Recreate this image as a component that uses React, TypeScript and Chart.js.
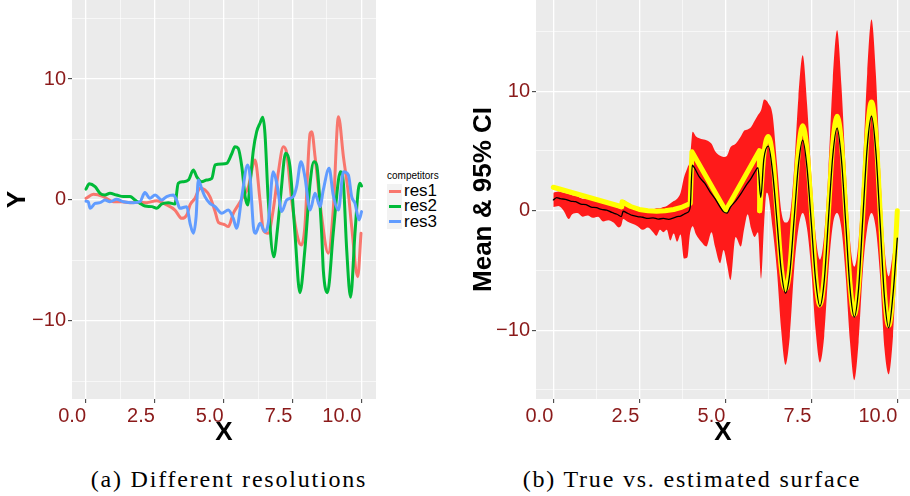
import React, { useEffect, useRef } from 'react';
import { Chart, registerables } from 'chart.js';

Chart.register(...registerables);

const SANS = '"Liberation Sans", Arial, Helvetica, sans-serif';
const SERIF = '"Liberation Serif", "Times New Roman", serif';
const TICK_RED = '#8B1A1A';

// ---- tick definitions ----
const xTicksAll = [0, 1.25, 2.5, 3.75, 5, 6.25, 7.5, 8.75, 10];
const xMajor = [0, 2.5, 5, 7.5, 10];
const xMajorLabels = ['0.0', '2.5', '5.0', '7.5', '10.0'];
const yTicksAll = [-15, -10, -5, 0, 5, 10, 15];
const yMajor = [-10, 0, 10];
const yMajorLabels = ['\u221210', '0', '10'];

// ---- panel (a): different resolutions ----
const legendTitle = 'competitors';
const seriesNames = ['res1', 'res2', 'res3'];
const seriesColors = ['#F8766D', '#00BA38', '#619CFF'];

const res1: [number, number][] = [
  [0, 0.14], [0.27, 0.47], [0.63, 0.28], [0.99, -0.14], [1.3, -0.15], [1.6, -0.22], [1.9, -0.2],
  [2.2, -0.22], [2.57, -0.06], [2.93, -0.41], [3.23, -0.83], [3.48, -1.52], [3.66, -1.24],
  [3.78, -0.41], [3.96, 0.14], [4.14, 0.96], [4.32, 0.83], [4.5, 0.28], [4.69, -0.96], [4.81, -1.85],
  [5.0, -2.0], [5.17, -2.2], [5.35, -1.1], [5.53, -0.41], [5.78, 0.55], [5.9, 1.1], [6.08, 3.03],
  [6.14, 3.3], [6.32, 0], [6.44, -2.48], [6.62, -2.75], [6.8, -0.83], [6.98, 2.2], [7.17, 4.4],
  [7.29, 3.86], [7.47, 0], [7.71, -3.3], [7.83, -3.72], [7.95, -2.2], [8.14, 5.5], [8.2, 5.65],
  [8.32, 3.58], [8.56, -1.38], [8.8, -4.4], [8.98, -0.83], [9.17, 6.88], [9.35, 3.58], [9.53, 0.55],
  [9.65, -2.2], [9.87, -6.34], [9.99, -2.75],
];

const res2: [number, number][] = [
  [0, 0.9], [0.12, 1.35], [0.33, 1.1], [0.51, 0.55], [0.69, 0.41], [0.87, 0.55], [1.11, 0.41],
  [1.36, 0.28], [1.6, 0.28], [1.78, 0], [1.96, -0.28], [2.14, -0.5], [2.39, -0.55], [2.57, -0.69],
  [2.75, -0.33], [2.99, -0.22], [3.23, -0.33], [3.35, 1.38], [3.53, 1.51], [3.72, 1.65], [3.9, 2.48],
  [4.02, 1.93], [4.2, 1.51], [4.38, 1.65], [4.57, 1.79], [4.69, 2.9], [4.93, 2.98], [5.11, 3.03],
  [5.29, 3.8], [5.41, 4.4], [5.53, 4.27], [5.66, 2.75], [5.78, 0.28], [5.87, -0.41], [5.96, 1.38],
  [6.08, 4.13], [6.2, 5.65], [6.32, 6.34], [6.42, 6.83], [6.5, 5.51], [6.62, 0], [6.82, -4.7],
  [6.95, -2.5], [7.08, 0.55], [7.25, 3.86], [7.41, 2.75], [7.59, -2.75], [7.77, -7.66], [7.95, -4.13],
  [8.14, 1.38], [8.28, 3.17], [8.38, 2.89], [8.56, -2.75], [8.62, -5.79], [8.77, -7.66], [8.98, -2.75],
  [9.17, 1.65], [9.24, 2.34], [9.35, 1.38], [9.47, -4.13], [9.61, -8.04], [9.77, -2.75], [9.89, 0.83],
  [9.95, 1.38], [10.01, 1.16],
];

const res3: [number, number][] = [
  [0, -0.1], [0.08, -0.14], [0.15, -0.69], [0.33, -0.28], [0.51, -0.22], [0.69, 0], [0.87, -0.14],
  [1.11, 0.06], [1.36, -0.14], [1.72, -0.22], [1.96, -0.14], [2.14, 0.61], [2.32, 0.14], [2.51, 0.41],
  [2.75, 0], [2.93, 0.28], [3.17, 0.41], [3.29, 0], [3.41, -0.69], [3.66, -0.55], [3.78, -1.93],
  [3.9, -2.75], [4.0, -1.38], [4.08, 1.65], [4.2, 0.96], [4.32, 0.28], [4.5, -0.28], [4.69, -0.55],
  [4.93, -1.1], [5.17, -0.83], [5.35, -1.52], [5.47, -2.34], [5.66, 0.28], [5.87, 2.89], [5.96, 1.93],
  [6.08, -2.2], [6.16, -2.75], [6.32, -1.93], [6.5, -2.62], [6.62, -1.93], [6.8, 2.34], [6.93, 1.38],
  [7.11, -0.96], [7.29, 0], [7.53, 0.28], [7.65, 1.1], [7.81, 3.17], [7.95, 1.93], [8.14, -0.83],
  [8.32, 0.55], [8.5, -0.55], [8.62, 0.83], [8.83, 2.62], [8.98, 0.41], [9.17, -0.83], [9.35, 2.34],
  [9.53, 2.07], [9.65, 0.28], [9.77, -0.28], [9.92, -1.65], [10.01, -0.96],
];

// ---- panel (b): true vs. estimated surface ----
const trueLinear: [number, number][] = [
  [0, 1.96], [1.99, 0.33], [2.0, 0.75], [2.25, 0.35], [2.5, 0.1], [2.75, 0.0], [3.0, -0.05],
  [3.25, 0.0], [3.5, 0.1], [3.75, 0.3], [3.98, 0.6], [4.03, 4.94], [5.01, 0.0], [5.99, 5.02], [6.0, 0.0],
];

const trueWave: [number, number][] = [
  [6.0, 0.0], [6.125, 4.8], [6.25, 6.2], [6.375, 4.5], [6.5, 0.0], [6.625, -4.7], [6.75, -6.6],
  [6.875, -4.8], [7.0, 0.1], [7.125, 5.0], [7.25, 7.1], [7.375, 5.1], [7.5, 0.1], [7.625, -5.5],
  [7.75, -7.9], [7.875, -5.6], [8.0, 0.0], [8.125, 5.6], [8.25, 7.9], [8.375, 5.7], [8.5, 0.0],
  [8.625, -6.1], [8.75, -8.7], [8.875, -6.2], [9.0, 0.0], [9.125, 6.4], [9.25, 9.1], [9.375, 6.5],
  [9.5, 0.0], [9.625, -6.8], [9.75, -9.6], [9.875, -6.8], [10.0, 0.0],
];

const estimate: [number, number][] = [
  [0, 0.9], [0.1, 1.1], [0.2, 1.0], [0.35, 0.95], [0.5, 0.8], [0.65, 0.75], [0.8, 0.55], [0.95, 0.5],
  [1.1, 0.3], [1.25, 0.25], [1.4, 0.1], [1.55, 0.05], [1.7, -0.15], [1.85, -0.3], [1.98, -0.5],
  [2.03, -0.05], [2.15, -0.2], [2.3, -0.4], [2.45, -0.5], [2.6, -0.55], [2.75, -0.65], [2.9, -0.6],
  [3.05, -0.7], [3.2, -0.65], [3.35, -0.72], [3.5, -0.6], [3.6, -0.5], [3.7, -0.45], [3.8, -0.3],
  [3.9, -0.15], [3.98, 0.3], [4.04, 3.8], [4.1, 3.6], [4.25, 2.8], [4.4, 2.3], [4.55, 1.6], [4.7, 1.0],
  [4.85, 0.3], [4.95, -0.1], [5.05, -0.2], [5.15, 0.3], [5.3, 0.8], [5.45, 1.4], [5.6, 2.1],
  [5.75, 2.7], [5.85, 3.2], [5.95, 3.6], [6.03, 1.1], [6.12, 4.3], [6.25, 5.4], [6.375, 3.2],
  [6.5, -0.8], [6.625, -5.0], [6.75, -6.9], [6.875, -5.2], [7.0, -0.7], [7.125, 3.8], [7.25, 5.9],
  [7.375, 3.6], [7.5, -1.0], [7.625, -5.8], [7.75, -8.0], [7.875, -5.9], [8.0, -0.6], [8.125, 4.6],
  [8.25, 6.9], [8.375, 4.3], [8.5, -1.0], [8.625, -6.5], [8.75, -8.9], [8.875, -6.5], [9.0, -0.5],
  [9.125, 5.3], [9.25, 7.9], [9.375, 5.0], [9.5, -1.0], [9.625, -7.2], [9.75, -9.8], [9.875, -7.0],
  [10.0, -2.3],
];

const ribbonX = [
  0, 0.15, 0.3, 0.45, 0.55, 0.7, 0.85, 1.0, 1.15, 1.3, 1.45, 1.6, 1.75, 1.9, 1.98, 2.03, 2.15, 2.3,
  2.45, 2.6, 2.75, 2.9, 3.0, 3.1, 3.2, 3.3, 3.4, 3.5, 3.6, 3.7, 3.8, 3.9, 3.97, 4.05, 4.15, 4.3, 4.45,
  4.6, 4.7, 4.85, 4.95, 5.05, 5.15, 5.3, 5.45, 5.55, 5.65, 5.75, 5.85, 5.95, 6.04, 6.13, 6.2, 6.25,
  6.375, 6.5, 6.625, 6.75, 6.875, 7.0, 7.125, 7.25, 7.375, 7.5, 7.625, 7.75, 7.875, 8.0, 8.125, 8.25,
  8.375, 8.5, 8.625, 8.75, 8.875, 9.0, 9.125, 9.25, 9.375, 9.5, 9.625, 9.75, 9.875, 10.0,
];
const ribbonUpper = [
  1.5, 1.6, 1.5, 1.4, 1.3, 1.2, 1.0, 1.0, 0.9, 0.8, 0.6, 0.6, 0.4, 0.2, 0.1, 0.9, 0.7, 0.4,
  0.2, 0.2, 0.1, 0.1, 0.2, 0.2, 0.3, 0.4, 0.6, 0.8, 1.0, 1.5, 2.8, 3.6, 4.2, 6.6, 6.2, 6.0, 5.9,
  5.6, 5.0, 4.6, 4.5, 4.6, 5.3, 5.6, 6.2, 6.7, 6.8, 7.0, 7.5, 8.0, 8.4, 9.3, 9.2, 9.0,
  8.0, 4.0, 0.0, -1.0, -0.5, 3.5, 9.5, 13.0, 9.0, 3.0, -2.0, -4.1, -2.0, 3.5, 11.0, 15.1,
  10.5, 3.5, -2.5, -4.7, -2.5, 3.5, 11.5, 16.0, 11.5, 3.5, -3.0, -5.5, -3.5, -1.2,
];
const ribbonLower = [
  0.3, 0.4, 0.0, -0.7, -0.3, -0.2, -0.5, -0.4, -0.6, -0.5, -0.9, -0.8, -1.0, -1.4, -1.2, -0.7, -0.9, -1.1,
  -1.3, -1.6, -1.4, -1.8, -2.1, -1.6, -1.8, -1.6, -2.5, -1.9, -2.6, -2.0, -4.0, -3.9, -2.0, -1.3, -2.0, -2.6, -3.0,
  -1.8, -3.0, -4.4, -3.3, -4.5, -5.8, -2.2, -3.0, -1.5, -0.3, -1.5, -2.2, -1.8, -5.7, -1.0, 1.5, 1.3,
  -1.5, -5.0, -10.0, -12.9, -10.5, -5.0, -1.5, -0.2, -1.5, -5.0, -10.0, -12.7, -10.5, -5.0, -1.2, -0.2,
  -1.5, -5.5, -11.0, -14.2, -11.0, -5.0, -1.5, -0.2, -1.5, -5.5, -11.5, -13.7, -10.5, -3.5,
];

const toXY = (pts: [number, number][]) => pts.map(([x, y]) => ({ x, y }));

const panelBg = {
  id: 'panelBg',
  beforeDraw(chart: any) {
    const { ctx, chartArea: a } = chart;
    ctx.save();
    ctx.fillStyle = '#EBEBEB';
    ctx.fillRect(a.left, a.top, a.right - a.left, a.bottom - a.top);
    ctx.restore();
  },
};

function gridFor(majors: number[]) {
  return {
    color: '#FFFFFF',
    lineWidth: (c: any) => (c.tick && majors.includes(c.tick.value) ? 1.3 : 0.6),
    tickColor: (c: any) => (c.tick && majors.includes(c.tick.value) ? '#333333' : 'rgba(0,0,0,0)'),
    tickLength: 4,
    tickWidth: 1,
    drawTicks: true,
  };
}

function makeScales(xr: [number, number], yr: [number, number], yAxisWidth: number, yTitle: string, yTitlePad: number) {
  return {
    x: {
      type: 'linear',
      min: xr[0],
      max: xr[1],
      afterBuildTicks: (s: any) => {
        s.ticks = xTicksAll.map((v) => ({ value: v }));
      },
      afterFit: (s: any) => {
        s.height = 60;
        s.paddingLeft = 0;
        s.paddingRight = 0;
      },
      grid: gridFor(xMajor),
      border: { display: false },
      ticks: {
        autoSkip: false,
        maxRotation: 0,
        minRotation: 0,
        align: 'end',
        padding: 1,
        color: TICK_RED,
        font: { family: SANS, size: 20 },
        callback: (v: any) => {
          const i = xMajor.indexOf(Number(v));
          return i >= 0 ? xMajorLabels[i] : [];
        },
      },
      title: {
        display: true,
        text: 'X',
        color: '#000000',
        font: { family: SANS, size: 26, weight: 'bold' },
        padding: { top: 0, bottom: 10.4 },
      },
    },
    y: {
      type: 'linear',
      min: yr[0],
      max: yr[1],
      afterBuildTicks: (s: any) => {
        s.ticks = yTicksAll.map((v) => ({ value: v }));
      },
      afterFit: (s: any) => {
        s.width = yAxisWidth;
        s.paddingTop = 0;
        s.paddingBottom = 0;
      },
      grid: gridFor(yMajor),
      border: { display: false },
      ticks: {
        autoSkip: false,
        padding: 2,
        color: TICK_RED,
        font: { family: SANS, size: 20 },
        callback: (v: any) => {
          const i = yMajor.indexOf(Number(v));
          return i >= 0 ? yMajorLabels[i] : [];
        },
      },
      title: {
        display: true,
        text: yTitle,
        color: '#000000',
        font: { family: SANS, size: 26, weight: 'bold' },
        padding: { top: yTitlePad, bottom: 0 },
      },
    },
  };
}

const lineBase = {
  pointRadius: 0,
  pointHoverRadius: 0,
  fill: false,
  borderJoinStyle: 'round',
  borderCapStyle: 'round',
};

export default function App() {
  const leftRef = useRef<HTMLCanvasElement>(null);
  const rightRef = useRef<HTMLCanvasElement>(null);

  useEffect(() => {
    const seriesData = [res1, res2, res3];
    const left = new Chart(leftRef.current as HTMLCanvasElement, {
      type: 'line',
      data: {
        datasets: seriesData.map((d, i) => ({
          ...lineBase,
          label: seriesNames[i],
          data: toXY(d),
          borderColor: seriesColors[i],
          borderWidth: 3,
          cubicInterpolationMode: 'monotone',
          order: 3 - i,
        })),
      } as any,
      options: {
        animation: false,
        responsive: false,
        events: [],
        layout: { padding: 0 },
        plugins: { legend: { display: false }, tooltip: { enabled: false } },
        scales: makeScales([-0.5085, 10.534], [-16.45, 16.53], 72, 'Y', 2.4) as any,
      },
      plugins: [panelBg],
    });

    const right = new Chart(rightRef.current as HTMLCanvasElement, {
      type: 'line',
      data: {
        datasets: [
          {
            ...lineBase,
            label: 'estimate',
            data: toXY(estimate),
            borderColor: '#000000',
            borderWidth: 1.3,
            cubicInterpolationMode: 'monotone',
          },
          {
            ...lineBase,
            label: 'true',
            data: toXY(trueLinear),
            borderColor: '#FFFF00',
            borderWidth: 5,
            tension: 0,
          },
          {
            ...lineBase,
            label: 'true2',
            data: toXY(trueWave),
            borderColor: '#FFFF00',
            borderWidth: 5,
            cubicInterpolationMode: 'monotone',
          },
          {
            ...lineBase,
            label: 'upper',
            data: ribbonX.map((x, i) => ({ x, y: ribbonUpper[i] })),
            borderColor: 'rgba(0,0,0,0)',
            borderWidth: 0,
            backgroundColor: '#FF1A1A',
            cubicInterpolationMode: 'monotone',
            fill: '+1',
          },
          {
            ...lineBase,
            label: 'lower',
            data: ribbonX.map((x, i) => ({ x, y: ribbonLower[i] })),
            borderColor: 'rgba(0,0,0,0)',
            borderWidth: 0,
            cubicInterpolationMode: 'monotone',
          },
        ],
      } as any,
      options: {
        animation: false,
        responsive: false,
        events: [],
        layout: { padding: 0 },
        plugins: { legend: { display: false }, tooltip: { enabled: false } },
        scales: makeScales([-0.503, 10.369], [-15.76, 17.63], 76, 'Mean & 95% CI', 8.4) as any,
      },
      plugins: [panelBg],
    });

    return () => {
      left.destroy();
      right.destroy();
    };
  }, []);

  const legendRows = [191, 206.3, 221.6];

  return (
    <div style={{ position: 'absolute', left: 0, top: 0, width: 910, height: 496, background: '#FFFFFF', overflow: 'hidden' }}>
      <canvas ref={leftRef} width={376} height={459} style={{ position: 'absolute', left: 0, top: 0, width: 376, height: 459 }} />
      <canvas ref={rightRef} width={450} height={459} style={{ position: 'absolute', left: 460, top: 0, width: 450, height: 459 }} />

      {/* legend for panel (a) */}
      <div style={{ position: 'absolute', left: 387, top: 169, font: `10px ${SANS}`, lineHeight: '13px', color: '#000' }}>
        {legendTitle}
      </div>
      {seriesNames.map((name, i) => (
        <React.Fragment key={name}>
          <div
            style={{
              position: 'absolute',
              left: 387,
              top: legendRows[i] - 7.5,
              width: 15,
              height: 15,
              background: '#F2F2F2',
            }}
          />
          <div
            style={{
              position: 'absolute',
              left: 388.5,
              top: legendRows[i] - 1.5,
              width: 12,
              height: 3,
              background: seriesColors[i],
            }}
          />
          <div
            style={{
              position: 'absolute',
              left: 404,
              top: legendRows[i] - 10,
              font: `17px ${SANS}`,
              lineHeight: '20px',
              color: '#000',
              whiteSpace: 'nowrap',
            }}
          >
            {name}
          </div>
        </React.Fragment>
      ))}

      {/* captions */}
      <div
        style={{
          position: 'absolute',
          left: 0,
          top: 467,
          width: 458,
          textAlign: 'center',
          font: `24px ${SERIF}`,
          lineHeight: '24px',
          letterSpacing: '1.8px',
          color: '#000',
          whiteSpace: 'nowrap',
        }}
      >
        (a) Different resolutions
      </div>
      <div
        style={{
          position: 'absolute',
          left: 474,
          top: 467,
          width: 436,
          textAlign: 'center',
          font: `24px ${SERIF}`,
          lineHeight: '24px',
          letterSpacing: '1.8px',
          color: '#000',
          whiteSpace: 'nowrap',
        }}
      >
        (b) True vs. estimated surface
      </div>
    </div>
  );
}
